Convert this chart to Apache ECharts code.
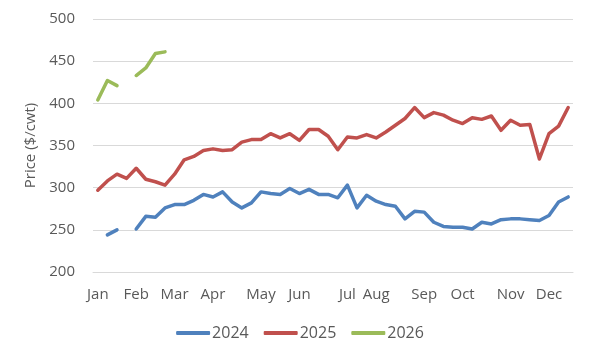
<!DOCTYPE html>
<html>
<head>
<meta charset="utf-8">
<script src="https://cdn.jsdelivr.net/npm/echarts@6/dist/echarts.min.js"></script>
<style>html,body{margin:0;padding:0;background:#fff;}#c{width:600px;height:360px;}</style>
</head>
<body>
<div id="c"></div>
<script>
// 50 weekly categories; month names shown at the first week of each month
const weeks = Array.from({length: 50}, (_, i) => 'W' + (i + 1));
const monthLabels = {0:'Jan',4:'Feb',8:'Mar',12:'Apr',17:'May',21:'Jun',26:'Jul',29:'Aug',34:'Sep',38:'Oct',43:'Nov',47:'Dec'};
const seriesNames = ['2024', '2025', '2026'];
const s2024 = [null,244,250,null,251,266,265,276,280,280,285,292,289,295,283,276,282,295,293,292,299,293,298,292,292,288,303,276,291,284,280,278,263,272,271,259,254,253,253,251,259,257,262,263,263,262,261,267,283,289];
const s2025 = [297,308,316,311,323,310,307,303,316,333,337,344,346,344,345,354,357,357,364,359,364,356,369,369,361,345,360,359,363,359,366,374,382,395,383,389,386,380,376,383,381,385,368,380,374,375,334,364,373,395];
const s2026 = [404,427,421,null,433,442,459,461];
const yTicks = {min: 200, max: 500, interval: 50};
const colors = ['#4F81BD', '#C0504D', '#9BBB59'];

const font = "'Open Sans', sans-serif";
const chart = echarts.init(document.getElementById('c'), null, {renderer: 'canvas'});
const mk = (name, data, color) => ({
  name, type: 'line', data, showSymbol: false, symbol: 'none',
  connectNulls: false, smooth: false,
  lineStyle: {width: 3.5, color, cap: 'round', join: 'round'},
  itemStyle: {color}
});
chart.setOption({
  animation: false,
  color: colors,
  grid: {left: 93, right: 27, top: 19, bottom: 88, containLabel: false},
  xAxis: {
    type: 'category', data: weeks, boundaryGap: true,
    axisLine: {show: true, lineStyle: {color: '#d9d9d9', width: 1}},
    axisTick: {show: false},
    axisLabel: {interval: 0, margin: 15, color: '#595959', fontSize: 15, fontFamily: font,
      formatter: (v, i) => monthLabels[i] || ''}
  },
  yAxis: {
    type: 'value', min: yTicks.min, max: yTicks.max, interval: yTicks.interval,
    name: 'Price ($/cwt)', nameLocation: 'middle', nameGap: 50, nameRotate: 90,
    nameTextStyle: {color: '#595959', fontSize: 15, fontFamily: font},
    axisLine: {show: false}, axisTick: {show: false},
    axisLabel: {color: '#595959', fontSize: 15, fontFamily: font, margin: 18},
    splitLine: {lineStyle: {color: '#d9d9d9', width: 1}}
  },
  legend: {
    data: seriesNames, bottom: 14, left: 'center',
    icon: 'roundRect', itemWidth: 34, itemHeight: 4, itemGap: 15,
    textStyle: {color: '#595959', fontSize: 16, fontFamily: font, padding: [0, 0, 0, -3]}
  },
  series: [mk(seriesNames[0], s2024, colors[0]), mk(seriesNames[1], s2025, colors[1]), mk(seriesNames[2], s2026, colors[2])]
});
</script>
</body>
</html>
